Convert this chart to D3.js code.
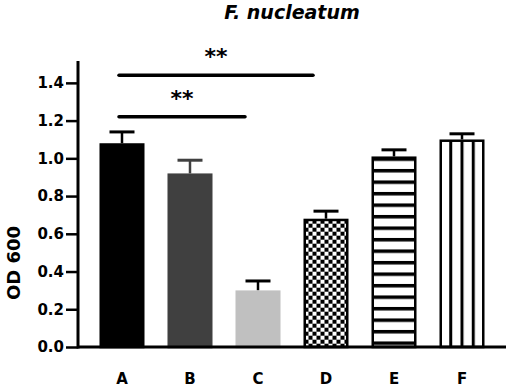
<!DOCTYPE html>
<html>
<head>
<meta charset="utf-8">
<script src="https://cdn.jsdelivr.net/npm/d3@7"></script>
<style>
  body { margin: 0; background: #fff; }
  text { font-family: "DejaVu Sans", sans-serif; font-weight: bold; fill: #000; }
</style>
</head>
<body>
<svg id="chart" width="510" height="391"></svg>
<script>
// data
var groups = ["A", "B", "C", "D", "E", "F"];
var means = [1.08, 0.92, 0.30, 0.68, 1.01, 1.10];
var errors = [0.06, 0.07, 0.05, 0.04, 0.035, 0.03];
var yTicks = [0.0, 0.2, 0.4, 0.6, 0.8, 1.0, 1.2, 1.4];
var sigFrom = ["A", "A"];
var sigTo = ["D", "C"];
var sigLevel = [1.44, 1.22];
var sigLabel = ["**", "**"];

var svg = d3.select("#chart");
var plotLeft = 78, plotRight = 506, plotTop = 64, plotBottom = 347;

var x = d3.scaleBand().domain(groups).range([plotLeft, plotRight])
    .paddingInner(0.338).paddingOuter(0.316);
var y = d3.scaleLinear().domain([0, 1.5]).range([plotBottom, plotTop]);
var bw = x.bandwidth();

// fills per bar
var defs = svg.append("defs");
var fills = {};
groups.forEach(function(g, i) {
    var bx = x(g), by = y(means[i]);
    if (g == "A") fills[g] = "#000";
    if (g == "B") fills[g] = "#404040";
    if (g == "C") fills[g] = "#c0c0c0";
    if (g == "D") {
        var p = defs.append("pattern").attr("id", "pD").attr("patternUnits", "userSpaceOnUse")
          .attr("x", bx + 1).attr("y", by + 1).attr("width", 8).attr("height", 8);
        p.append("rect").attr("width", 8).attr("height", 8).attr("fill", "#fff");
        p.append("rect").attr("width", 4).attr("height", 4).attr("fill", "#000");
        p.append("rect").attr("x", 4).attr("y", 4).attr("width", 4).attr("height", 4).attr("fill", "#000");
        fills[g] = "url(#pD)";
    }
    if (g == "E") {
        var p = defs.append("pattern").attr("id", "pE").attr("patternUnits", "userSpaceOnUse")
          .attr("x", 0).attr("y", by + 12.5).attr("width", 10).attr("height", 11.5);
        p.append("rect").attr("width", 10).attr("height", 11.5).attr("fill", "#fff");
        p.append("rect").attr("width", 10).attr("height", 3.5).attr("fill", "#000");
        fills[g] = "url(#pE)";
    }
    if (g == "F") {
        var p = defs.append("pattern").attr("id", "pF").attr("patternUnits", "userSpaceOnUse")
          .attr("x", bx - 1.5).attr("y", 0).attr("width", bw / 4).attr("height", 10);
        p.append("rect").attr("width", bw / 4).attr("height", 10).attr("fill", "#fff");
        p.append("rect").attr("width", 3).attr("height", 10).attr("fill", "#000");
        fills[g] = "url(#pF)";
    }
});

var strokes = { A: "#000", B: "#404040", C: "#c0c0c0", D: "#000", E: "#000", F: "#000" };
var errColor = { A: "#000", B: "#404040", C: "#000", D: "#000", E: "#000", F: "#000" };

// error bars (upper only), drawn under the bars
var err = svg.append("g");
groups.forEach(function(g, i) {
    var cx = x(g) + bw / 2;
    err.append("line").attr("x1", cx).attr("x2", cx)
      .attr("y1", y(means[i])).attr("y2", y(means[i] + errors[i]))
      .attr("stroke", errColor[g]).attr("stroke-width", 2.5);
    err.append("line").attr("x1", cx - 12.5).attr("x2", cx + 12.5)
      .attr("y1", y(means[i] + errors[i])).attr("y2", y(means[i] + errors[i]))
      .attr("stroke", errColor[g]).attr("stroke-width", 3);
});

svg.append("g").selectAll("rect")
  .data(groups)
  .enter()
  .append("rect")
  .attr("x", d => x(d) + 1.25)
  .attr("y", (d, i) => y(means[i]) + 1.25)
  .attr("width", bw - 2.5)
  .attr("height", (d, i) => plotBottom - y(means[i]) - 1.25)
  .attr("fill", d => fills[d])
  .attr("stroke", d => strokes[d])
  .attr("stroke-width", 2.5);

// axes
var yAxis = svg.append("g").attr("transform", "translate(" + plotLeft + ",0)")
  .call(d3.axisLeft(y).tickValues(yTicks).tickFormat(d3.format(".1f")).tickSize(12).tickPadding(2));
yAxis.select(".domain").remove();
yAxis.selectAll(".tick line").attr("stroke", "#000").attr("stroke-width", 2.5);
yAxis.selectAll("text").style("font-size", "15px");

svg.append("line").attr("x1", plotLeft).attr("x2", plotLeft).attr("y1", 61).attr("y2", plotBottom + 1.5)
  .attr("stroke", "#000").attr("stroke-width", 3);
svg.append("line").attr("x1", plotLeft).attr("x2", plotRight).attr("y1", plotBottom).attr("y2", plotBottom)
  .attr("stroke", "#000").attr("stroke-width", 3);

svg.append("g").selectAll("text")
  .data(groups)
  .enter()
  .append("text")
  .attr("x", d => x(d) + bw / 2)
  .attr("y", 384)
  .attr("text-anchor", "middle")
  .style("font-size", "15px")
  .text(d => d);

// significance bars
sigFrom.forEach(function(f, i) {
    var x1 = x(f) + bw / 2 - 3, x2 = x(sigTo[i]) + bw / 2 - 13;
    var ly = y(sigLevel[i]);
    svg.append("line").attr("x1", x1).attr("x2", x2).attr("y1", ly).attr("y2", ly)
      .attr("stroke", "#000").attr("stroke-width", 3.5).attr("stroke-linecap", "round");
    svg.append("text").attr("x", (x1 + x2) / 2).attr("y", ly - 11)
      .attr("text-anchor", "middle").style("font-size", "22px").text(sigLabel[i]);
});

// titles
svg.append("text").attr("x", 292).attr("y", 19).attr("text-anchor", "middle")
  .style("font-size", "19px").style("font-style", "italic").text("F. nucleatum");
svg.append("text").attr("transform", "translate(20,263) rotate(-90)")
  .attr("text-anchor", "middle").style("font-size", "18px").text("OD 600");
</script>
</body>
</html>
